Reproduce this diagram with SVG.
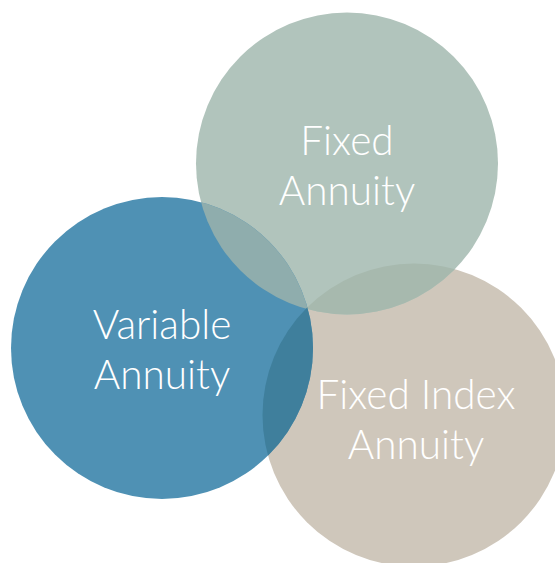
<svg xmlns="http://www.w3.org/2000/svg" width="555" height="563" viewBox="0 0 555 563">
<style>
.lbl{font-family:Lato,"Open Sans","Liberation Sans",sans-serif;font-weight:300;font-size:40.5px;fill:#ffffff;text-anchor:middle}
</style>
<defs>
<clipPath id="cF"><circle cx="347" cy="163.5" r="151"/></clipPath>
<clipPath id="cV"><circle cx="162" cy="348" r="151"/></clipPath>
<clipPath id="cI"><circle cx="414" cy="415" r="151.5"/></clipPath>
</defs>
<rect width="555" height="563" fill="#ffffff"/>
<g id="fixed-index-annuity">
<circle cx="414" cy="415" r="151.5" fill="#cfc7bb"/>
</g>
<g id="fixed-annuity">
<circle cx="347" cy="163.5" r="151" fill="#b1c4bc"/>
</g>
<g id="variable-annuity">
<circle cx="162" cy="348" r="151" fill="#4f91b4"/>
</g>
<g id="overlaps">
<circle cx="414" cy="415" r="151.5" fill="#a7b9ae" clip-path="url(#cF)"/>
<circle cx="347" cy="163.5" r="151" fill="#8fadad" clip-path="url(#cV)"/>
<circle cx="414" cy="415" r="151.5" fill="#3f7f9c" clip-path="url(#cV)"/>
</g>
<g id="labels">
<text class="lbl" x="347" y="155">Fixed</text>
<text class="lbl" x="347" y="205">Annuity</text>
<text class="lbl" x="162" y="339">Variable</text>
<text class="lbl" x="162" y="389">Annuity</text>
<text class="lbl" x="416" y="409">Fixed Index</text>
<text class="lbl" x="416" y="459">Annuity</text>
</g>
<g id="connectors"/>
</svg>
